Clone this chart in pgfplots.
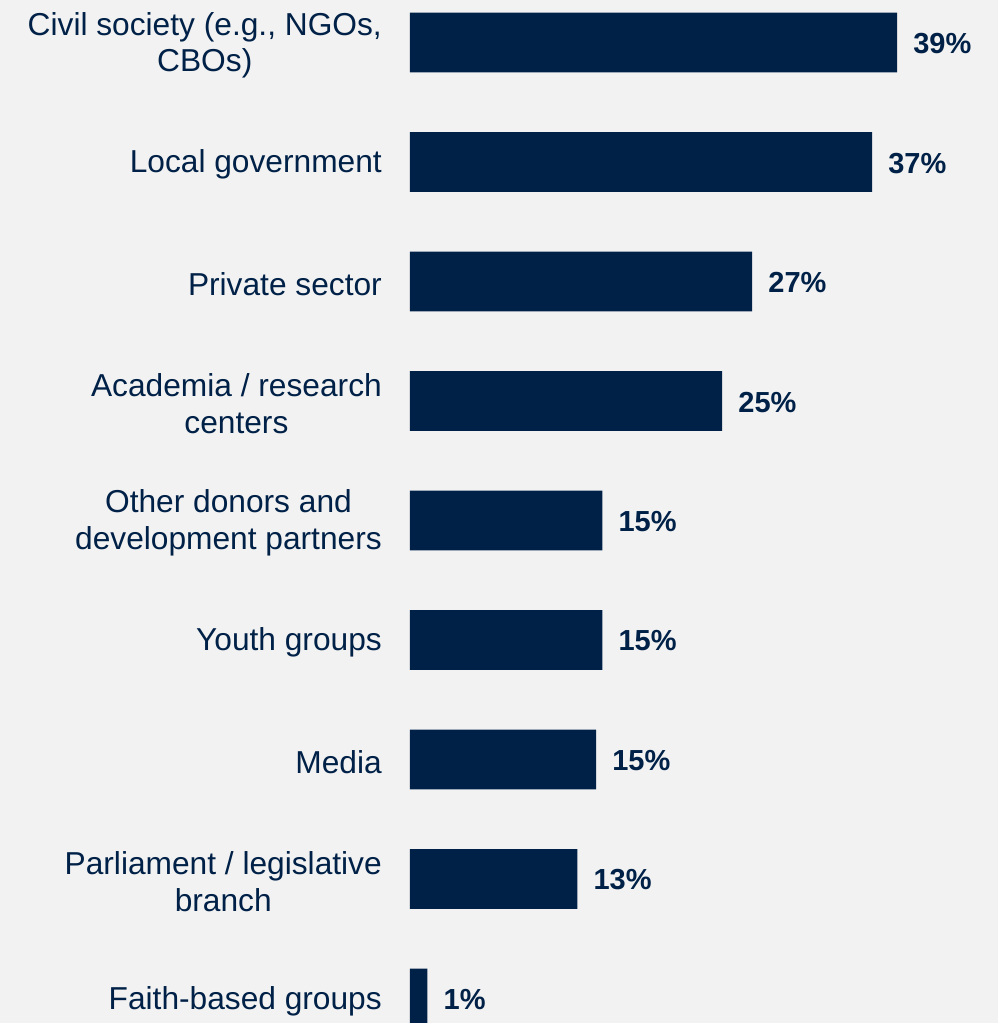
\documentclass[border=0pt]{standalone}
\usepackage{pgfplots}
\pgfplotsset{compat=1.18}
\usepackage{fontspec}
\setmainfont{Liberation Sans}
\definecolor{navy}{HTML}{002147}
\definecolor{bg}{HTML}{F2F2F2}

\begin{document}
\begin{tikzpicture}
  \fill[bg] (-410pt,0) rectangle (588pt,1023pt);
  \begin{axis}[
      at={(0,0)}, anchor=south west,
      xbar,
      scale only axis,
      width=588pt,
      height=1023pt,
      xmin=0, xmax=47.08,
      ymin=-0.356, ymax=8.205,
      y dir=reverse,
      bar width=0.5,
      clip=false,
      axis line style={draw=none},
      major tick length=0pt,
      xtick=\empty,
      ytick={0,...,8},
      yticklabels={
        {Civil society (e.g., NGOs,\\CBOs)},
        {Local government},
        {Private sector},
        {Academia / research\\centers},
        {Other donors and\\development partners},
        {Youth groups},
        {Media},
        {Parliament / legislative\\branch},
        {Faith-based groups}},
      yticklabel style={align=center, anchor=east, inner sep=0pt, xshift=-28pt,
        yshift=-2.5pt, font=\fontsize{31.7}{36.5}\selectfont, text=navy},
      point meta=explicit symbolic,
      nodes near coords,
      nodes near coords style={anchor=west, inner sep=0pt, xshift=16pt,
        yshift=-1pt, font=\fontsize{29}{33}\selectfont\bfseries, text=navy},
    ]
    \addplot[fill=navy, draw=none] table[x=v, y=i, meta=lab] {
      i v lab
      0 39.0 39\%
      1 37.0 37\%
      2 27.4 27\%
      3 25.0 25\%
      4 15.4 15\%
      5 15.4 15\%
      6 14.9 15\%
      7 13.4 13\%
      8 1.4 1\%
    };
  \end{axis}
  \pgfresetboundingbox
  \useasboundingbox (-410pt,0) rectangle (588pt,1023pt);
\end{tikzpicture}
\end{document}
